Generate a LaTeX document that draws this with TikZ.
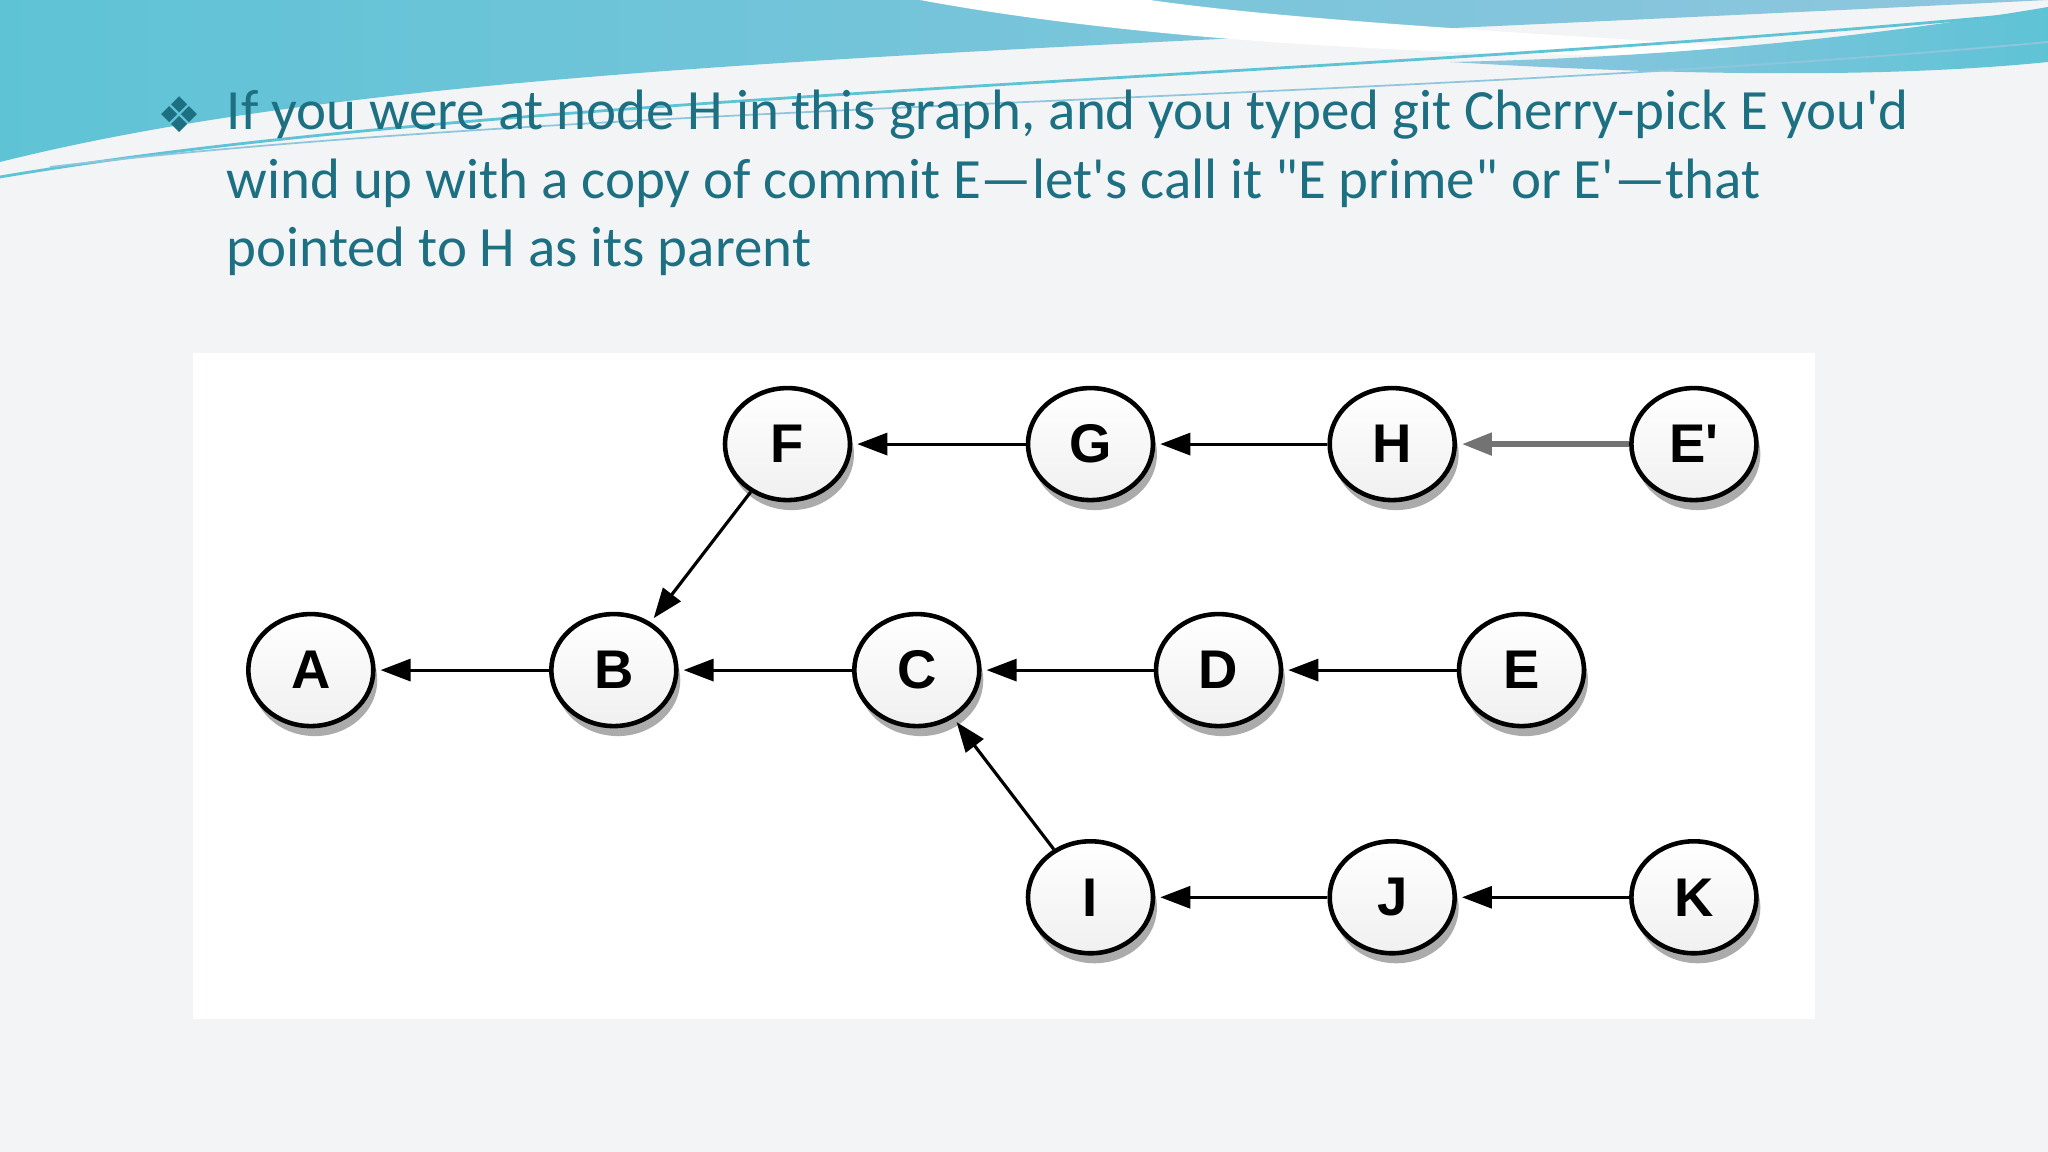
\documentclass[tikz,border=0pt]{standalone}
\usepackage{fontspec}
\setmainfont{Carlito}[Ligatures=TeXOff]
\newfontfamily\nodefont{Liberation Sans}[Ligatures=TeXOff]
\newfontfamily\symfont{DejaVu Sans}
\usetikzlibrary{shapes.geometric,shadows,arrows.meta}
\definecolor{slidebg}{HTML}{F3F4F6}
\definecolor{teal}{HTML}{1D6F82}
\definecolor{waveA}{HTML}{5FC3D6}
\definecolor{waveB}{HTML}{8FC6DE}
\tikzset{
  commit/.style={ellipse, draw=black, line width=1.3pt, minimum width=1.25cm, minimum height=1.12cm,
    inner sep=0pt, top color=white, bottom color=gray!12,
    drop shadow={shadow xshift=0.04cm, shadow yshift=-0.1cm, fill=black!55, opacity=0.6},
    font=\nodefont\bfseries\fontsize{15.5}{16}\selectfont},
  edge/.style={-{Triangle[length=0.3cm,width=0.22cm]}, line width=0.9pt, shorten >=0.05cm},
  txt/.style={anchor=west, text=teal, inner sep=0pt, font=\fontsize{16.2}{19}\selectfont}
}
\begin{document}
\begin{tikzpicture}
\useasboundingbox (0,0) rectangle (20.48,11.52);
\fill[slidebg] (0,0) rectangle (20.48,11.52);
% top wave
\shade[left color=waveA, right color=waveB] (0,11.52) -- (0,9.9) .. controls (4,10.9) and (10,11.0) .. (20.48,11.52) -- cycle;
\fill[white] (9.2,11.52) .. controls (12,11.0) and (16,10.9) .. (18.2,11.0) .. controls (16,11.15) and (13,11.3) .. (11.5,11.52) -- cycle;
\shade[left color=waveB, right color=waveA] (14.5,10.9) .. controls (17,10.95) and (19,11.2) .. (20.48,11.45) -- (20.48,10.9) .. controls (19,10.75) and (17,10.75) .. (14.5,10.9) -- cycle;
\draw[waveA, line width=0.8pt] (0,9.75) .. controls (5,10.6) and (13,10.7) .. (20.48,11.4);
\draw[waveB, line width=0.5pt] (0.5,9.85) .. controls (6,10.5) and (14,10.5) .. (20.48,11.1);
% text
\node[anchor=west, text=teal, font=\symfont\fontsize{14}{14}\selectfont] (bul) at (1.45,10.37) {❖};
\node[txt] (l1) at (2.26,10.37) {If you were at node H in this graph, and you typed git Cherry-pick E you'd};
\node[txt] (l2) at (2.26,9.69) {wind up with a copy of commit E—let's call it "E prime" or E'—that};
\node[txt] (l3) at (2.26,9.01) {pointed to H as its parent};
% panel
\fill[white] (1.93,1.33) rectangle (18.15,7.99);
% nodes
\node[commit] (F) at (7.875,7.079) {F};
\node[commit] (G) at (10.905,7.079) {G};
\node[commit] (H) at (13.922,7.079) {H};
\node[commit] (Ep) at (16.939,7.079) {E'};
\node[commit] (A) at (3.108,4.819) {A};
\node[commit] (B) at (6.138,4.819) {B};
\node[commit] (C) at (9.168,4.819) {C};
\node[commit] (D) at (12.185,4.819) {D};
\node[commit] (E) at (15.215,4.819) {E};
\node[commit] (I) at (10.905,2.547) {I};
\node[commit] (J) at (13.922,2.547) {J};
\node[commit] (K) at (16.939,2.547) {K};
% edges
\draw[edge] (G) -- (F);
\draw[edge] (H) -- (G);
\draw[edge, draw=black!55, line width=1.5pt] (Ep) -- (H);
\draw[edge] (B) -- (A);
\draw[edge] (C) -- (B);
\draw[edge] (D) -- (C);
\draw[edge] (E) -- (D);
\draw[edge] (F) -- (B);
\draw[edge] (I) -- (C);
\draw[edge] (J) -- (I);
\draw[edge] (K) -- (J);
\end{tikzpicture}
\end{document}
